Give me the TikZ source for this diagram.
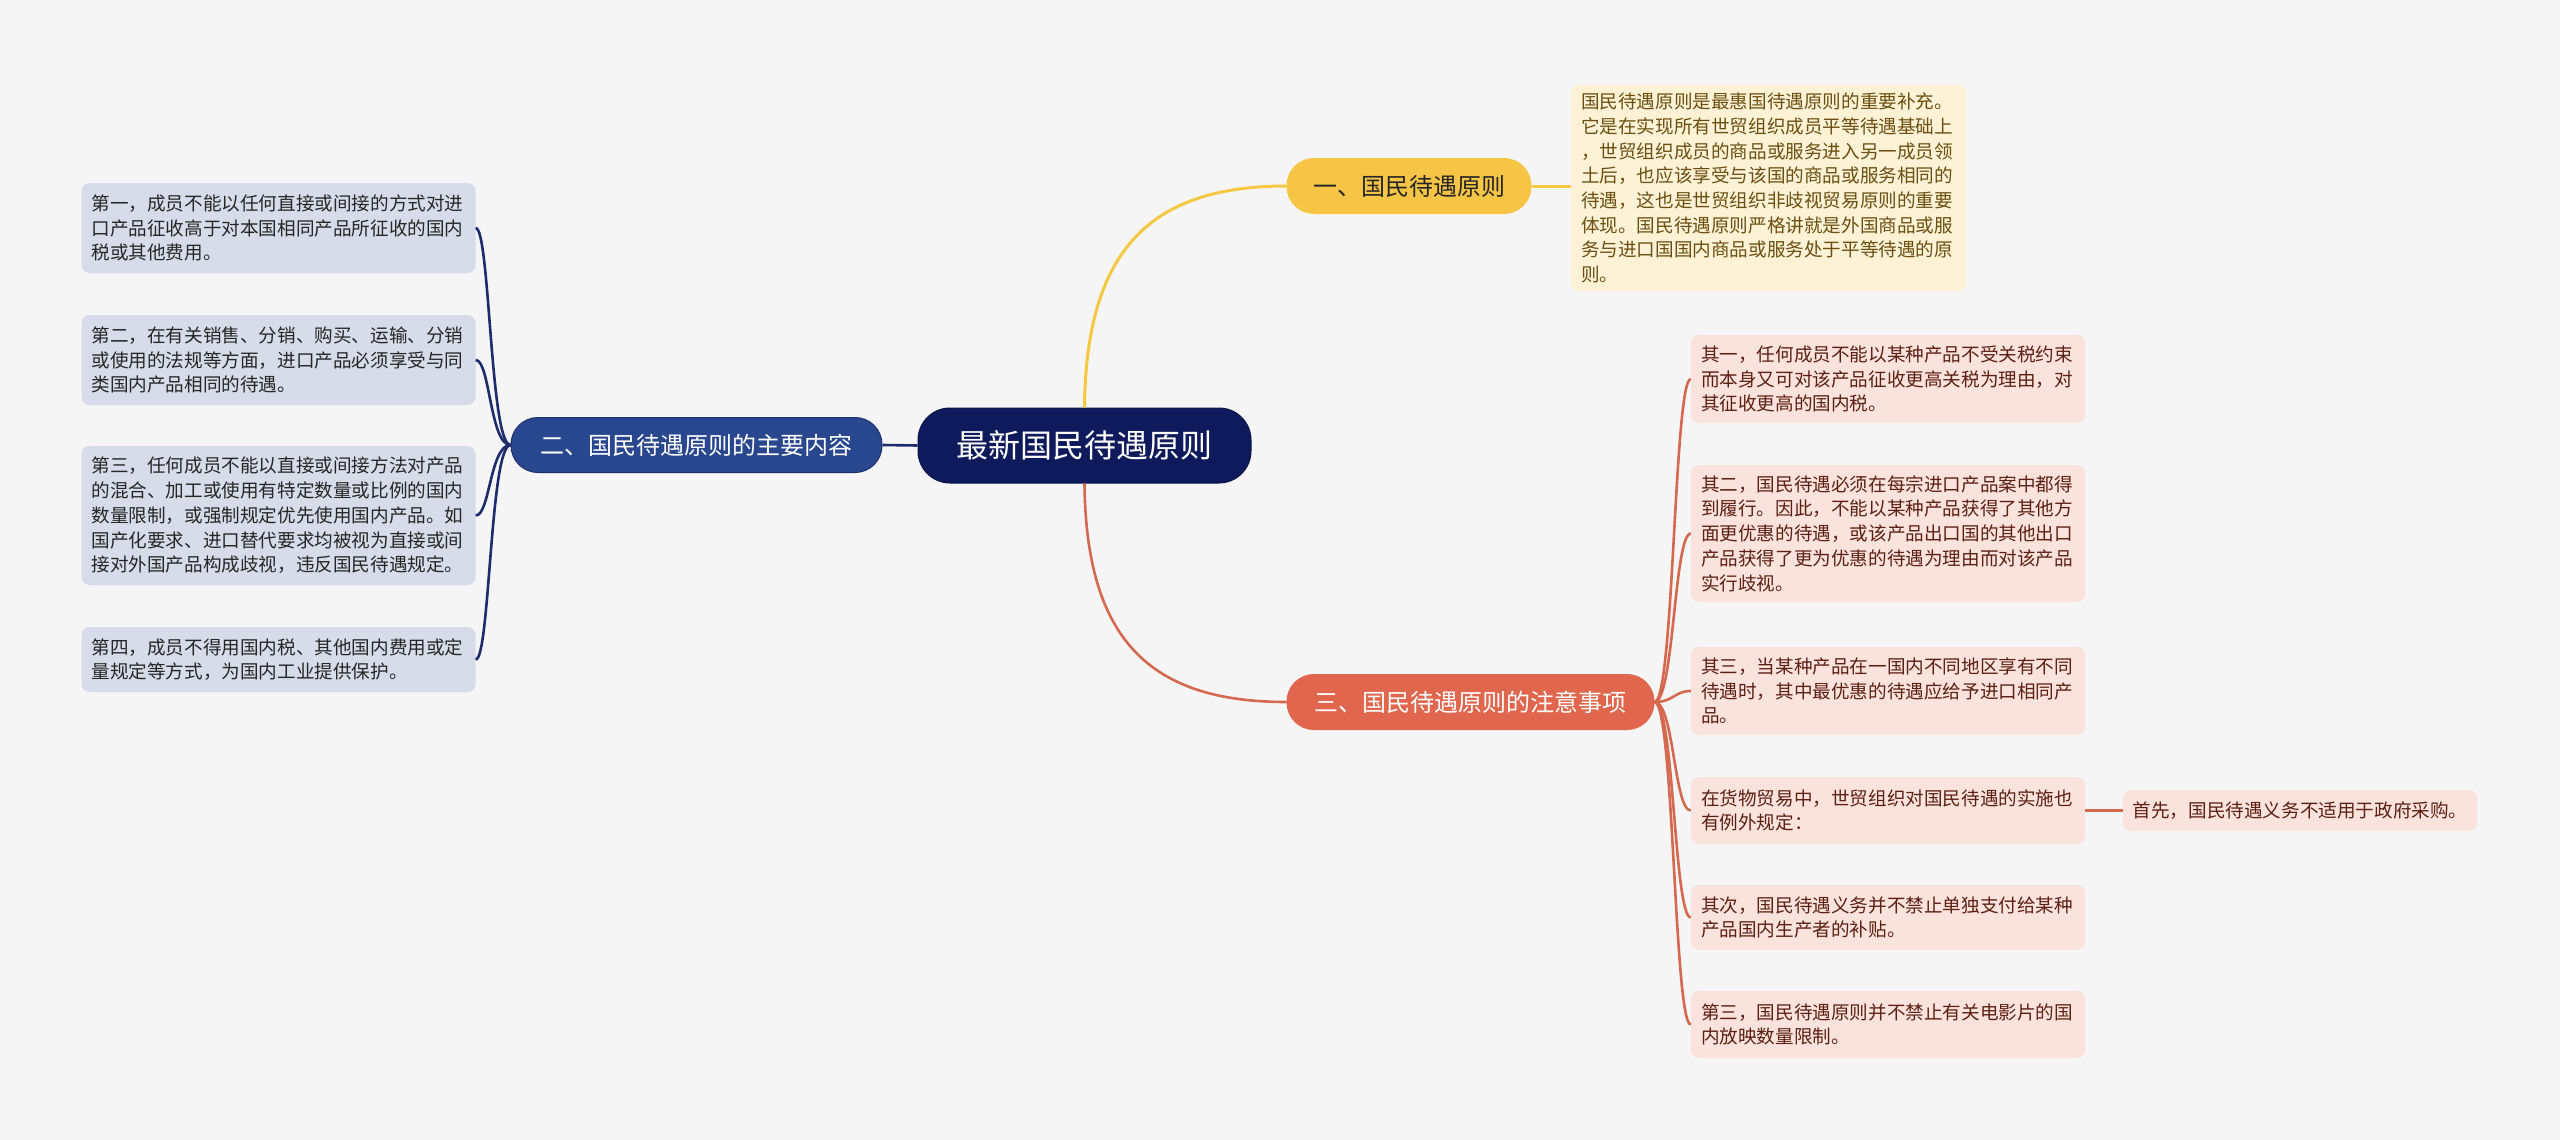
\documentclass[tikz,border=0pt]{standalone}
\usepackage{fontspec}
\setmainfont{Noto Sans CJK SC}
\definecolor{bgc}{HTML}{F5F5F5}
\definecolor{rootc}{HTML}{0E1A5C}
\definecolor{navyb}{HTML}{28478F}
\definecolor{navyd}{HTML}{1B2F6E}
\definecolor{navyl}{HTML}{1C2C6C}
\definecolor{leafb}{HTML}{D8DCEA}
\definecolor{yelb}{HTML}{F7C546}
\definecolor{yell}{HTML}{F5C842}
\definecolor{yleaf}{HTML}{FDF2D6}
\definecolor{ytext}{HTML}{6B4F10}
\definecolor{coral}{HTML}{E0674E}
\definecolor{corall}{HTML}{D5694F}
\definecolor{pinkb}{HTML}{FBE3DD}
\definecolor{ptext}{HTML}{5C1F13}
\begin{document}
\begin{tikzpicture}[x=1pt,y=-1pt,
  root/.style={rectangle, rounded corners=32pt, fill=rootc, draw=rootc!80!black, line width=1pt, text=white, minimum width=333pt, minimum height=75pt, font=\fontsize{32}{36}\selectfont},
  branch/.style={rectangle, rounded corners=27pt, minimum height=55pt, font=\fontsize{24}{28}\selectfont, line width=1pt},
  leafbase/.style={rectangle, rounded corners=8pt, inner xsep=10pt, inner ysep=0pt, align=left, font=\fontsize{18.6}{24.7}\selectfont},
  bleaf/.style={leafbase, fill=leafb, text=black!85, text width=374pt},
  yleafs/.style={leafbase, fill=yleaf, text=ytext, text width=375pt},
  pleaf/.style={leafbase, fill=pinkb, text=ptext, text width=374pt},
  bcon/.style={draw=navyl, line width=2.6pt},
  ycon/.style={draw=yell, line width=3pt},
  ccon/.style={draw=corall, line width=2.6pt}
]
\fill[bgc] (0,0) rectangle (2560,1140);
\useasboundingbox (0,0) rectangle (2560,1140);

% root
\node[root] (c) at (1084.5,445.5) {最新国民待遇原则};

% branches
\node[branch, fill=navyb, draw=navyd, text=white, minimum width=371pt] (b2) at (696.5,445) {二、国民待遇原则的主要内容};
\node[branch, fill=yelb, draw=yelb, text=black!85, minimum width=244pt] (b1) at (1409,186) {一、国民待遇原则};
\node[branch, fill=coral, draw=coral, text=white, minimum width=367pt] (b3) at (1470.5,702) {三、国民待遇原则的注意事项};

% yellow leaf
\node[yleafs, minimum height=206pt] (y1) at (1768.5,188) {国民待遇原则是最惠国待遇原则的重要补充。\\它是在实现所有世贸组织成员平等待遇基础上\\，世贸组织成员的商品或服务进入另一成员领\\土后，也应该享受与该国的商品或服务相同的\\待遇，这也是世贸组织非歧视贸易原则的重要\\体现。国民待遇原则严格讲就是外国商品或服\\务与进口国国内商品或服务处于平等待遇的原\\则。};

% left leaves
\node[bleaf, minimum height=90pt] (l1) at (278.5,228) {第一，成员不能以任何直接或间接的方式对进\\口产品征收高于对本国相同产品所征收的国内\\税或其他费用。};
\node[bleaf, minimum height=90pt] (l2) at (278.5,360) {第二，在有关销售、分销、购买、运输、分销\\或使用的法规等方面，进口产品必须享受与同\\类国内产品相同的待遇。};
\node[bleaf, minimum height=139pt] (l3) at (278.5,515.5) {第三，任何成员不能以直接或间接方法对产品\\的混合、加工或使用有特定数量或比例的国内\\数量限制，或强制规定优先使用国内产品。如\\国产化要求、进口替代要求均被视为直接或间\\接对外国产品构成歧视，违反国民待遇规定。};
\node[bleaf, minimum height=65pt] (l4) at (278.5,659.5) {第四，成员不得用国内税、其他国内费用或定\\量规定等方式，为国内工业提供保护。};

% right leaves
\node[pleaf, minimum height=88pt] (r1) at (1888,379) {其一，任何成员不能以某种产品不受关税约束\\而本身又可对该产品征收更高关税为理由，对\\其征收更高的国内税。};
\node[pleaf, minimum height=137pt] (r2) at (1888,533.5) {其二，国民待遇必须在每宗进口产品案中都得\\到履行。因此，不能以某种产品获得了其他方\\面更优惠的待遇，或该产品出口国的其他出口\\产品获得了更为优惠的待遇为理由而对该产品\\实行歧视。};
\node[pleaf, minimum height=88pt] (r3) at (1888,691) {其三，当某种产品在一国内不同地区享有不同\\待遇时，其中最优惠的待遇应给予进口相同产\\品。};
\node[pleaf, minimum height=67pt] (r4) at (1888,810.5) {在货物贸易中，世贸组织对国民待遇的实施也\\有例外规定：};
\node[leafbase, fill=pinkb, text=ptext, minimum width=354pt, minimum height=41pt, inner xsep=9pt] (r4a) at (2300,810.5) {首先，国民待遇义务不适用于政府采购。};
\node[pleaf, minimum height=65pt] (r5) at (1888,917.5) {其次，国民待遇义务并不禁止单独支付给某种\\产品国内生产者的补贴。};
\node[pleaf, minimum height=67pt] (r6) at (1888,1024.5) {第三，国民待遇原则并不禁止有关电影片的国\\内放映数量限制。};

% connectors root
\draw[bcon] (c.west) -- (b2.east);
\draw[ycon] (c.north) .. controls (1086,250) and (1150,186) .. (b1.west);
\draw[ccon] (c.south) .. controls (1086,640) and (1150,702) .. (b3.west);
\draw[ycon] (b1.east) -- (y1.west |- b1.east);

% left connectors
\foreach \n in {l1,l2,l3,l4}{
  \draw[bcon] (b2.west) .. controls (490,445) and (490,0 |- \n.east) .. (\n.east);
}
% right connectors
\foreach \n in {r1,r2,r3,r4,r5,r6}{
  \draw[ccon] (b3.east) .. controls (1674,702) and (1674,0 |- \n.west) .. (\n.west);
}
\draw[ccon] (r4.east) -- (r4a.west);
\end{tikzpicture}
\end{document}
